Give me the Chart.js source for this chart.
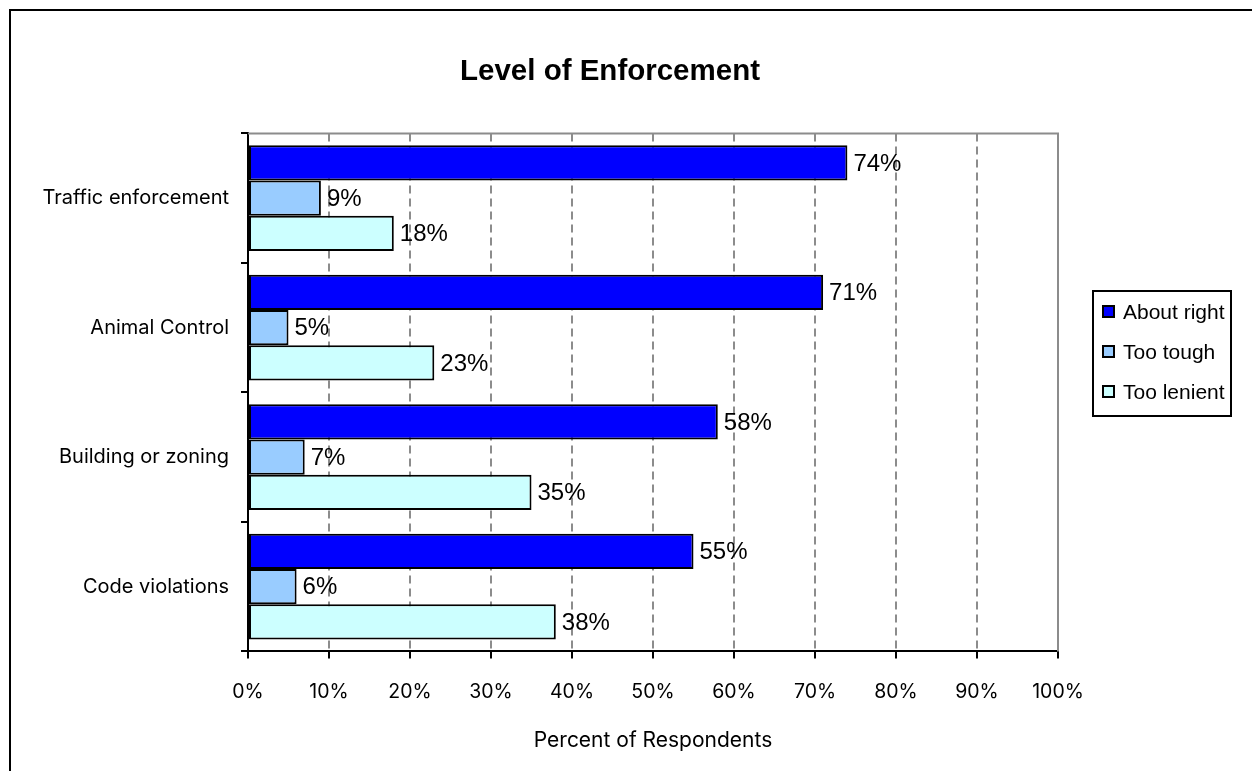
<!DOCTYPE html>
<html>
<head>
<meta charset="utf-8">
<script src="https://cdn.jsdelivr.net/npm/chart.js@4.4.1/dist/chart.umd.min.js"></script>
<style>
  html, body { margin: 0; padding: 0; background: #fff; }
  #wrap { position: relative; width: 1252px; height: 771px; overflow: hidden; }
  #legend {
    position: absolute; left: 1092px; top: 290px; width: 136px; height: 123px;
    border: 2px solid #000; font: 21px "Liberation Sans", Arial, sans-serif; color: #000;
  }
  #legend div { position: absolute; left: 8px; height: 24px; line-height: 24px; white-space: nowrap; }
  #legend span.box { display: inline-block; width: 9px; height: 9px; border: 2px solid #000; margin-right: 8px; vertical-align: 1px; }
</style>
</head>
<body>
<div id="wrap">
  <canvas id="enfChart" width="1252" height="771"></canvas>
  <div id="legend"></div>
</div>
<script>
// Level of Enforcement - percent of respondents per area
const categories = ['Traffic enforcement', 'Animal Control', 'Building or zoning', 'Code violations'];
const seriesNames = ['About right', 'Too tough', 'Too lenient'];
const aboutRight = [74, 71, 58, 55];
const tooTough = [9, 5, 7, 6];
const tooLenient = [18, 23, 35, 38];
const seriesColors = ['#0000ff', '#99ccff', '#ccffff'];
const xTicks = [0, 10, 20, 30, 40, 50, 60, 70, 80, 90, 100];

const seriesValues = [aboutRight, tooTough, tooLenient];

// outer frame of the chart object
const framePlugin = {
    id: 'frame',
    beforeDraw(chart) {
        const ctx = chart.ctx;
        ctx.save();
        ctx.strokeStyle = '#000';
        ctx.lineWidth = 2;
        ctx.strokeRect(10, 10, 2000, 2000);
        ctx.restore();
    }
};

// gray top / right edge of the plot area
const plotEdgePlugin = {
    id: 'plotEdge',
    beforeDatasetsDraw(chart) {
        const {ctx, chartArea: a} = chart;
        ctx.save();
        ctx.strokeStyle = '#8c8c8c';
        ctx.lineWidth = 2;
        ctx.beginPath();
        ctx.moveTo(a.left, a.top);
        ctx.lineTo(a.right, a.top);
        ctx.lineTo(a.right, a.bottom);
        ctx.stroke();
        ctx.restore();
    }
};

// value labels at the end of each bar
const valueLabels = {
    id: 'valueLabels',
    afterDatasetsDraw(chart) {
        const ctx = chart.ctx;
        ctx.save();
        ctx.font = '24px "Liberation Sans", Arial, sans-serif';
        ctx.fillStyle = '#000';
        ctx.textAlign = 'left';
        ctx.textBaseline = 'middle';
        chart.data.datasets.forEach((ds, i) => {
            chart.getDatasetMeta(i).data.forEach((bar, j) => {
                ctx.fillText(ds.data[j] + '%', bar.x + 6, bar.y + 1);
            });
        });
        ctx.restore();
    }
};

new Chart(document.getElementById('enfChart'), {
    type: 'bar',
    data: {
        labels: categories,
        datasets: seriesNames.map((name, i) => ({
            label: name,
            data: seriesValues[i],
            backgroundColor: seriesColors[i],
            borderColor: '#000',
            borderWidth: 2,
            borderSkipped: false,
            categoryPercentage: 0.817,
            barPercentage: 1
        }))
    },
    options: {
        indexAxis: 'y',
        responsive: false,
        animation: false,
        layout: { padding: { left: 0, right: 32, top: 10, bottom: 10 } },
        plugins: {
            legend: { display: false },
            tooltip: { enabled: false },
            title: {
                display: true,
                text: 'Level of Enforcement',
                color: '#000',
                font: { family: '"Liberation Sans", Arial, sans-serif', size: 29.5, weight: 'bold' },
                padding: { top: 44, bottom: 44 }
            }
        },
        scales: {
            x: {
                min: 0,
                max: 100,
                afterBuildTicks(scale) { scale.ticks = xTicks.map(v => ({ value: v })); },
                ticks: {
                    color: '#000',
                    padding: 22,
                    font: { family: 'Inter, sans-serif', size: 19.5 },
                    callback: v => v + '%'
                },
                grid: { color: '#8c8c8c', lineWidth: 2, tickColor: '#000', tickLength: 7, tickWidth: 2 },
                border: { color: '#000', width: 2, dash: [8, 5] },
                title: {
                    display: true,
                    text: 'Percent of Respondents',
                    color: '#000',
                    font: { family: 'Inter, sans-serif', size: 21 },
                    padding: { top: 2, bottom: 8 }
                }
            },
            y: {
                afterFit(scale) { scale.width = 248; },
                ticks: {
                    color: '#000',
                    padding: 12,
                    font: { family: 'Inter, sans-serif', size: 20 }
                },
                grid: { drawOnChartArea: false, color: '#000', tickLength: 7, lineWidth: 2 },
                border: { color: '#000', width: 2 }
            },
            // empty axis that keeps room for the legend on the right
            legendSpace: {
                axis: 'y',
                position: 'right',
                afterFit(scale) { scale.width = 162; },
                ticks: { display: false },
                grid: { display: false },
                border: { display: false }
            }
        }
    },
    plugins: [framePlugin, plotEdgePlugin, valueLabels]
});

// legend box built from the series arrays
const legendEl = document.getElementById('legend');
seriesNames.forEach((name, i) => {
    const item = document.createElement('div');
    item.style.top = (8 + i * 40) + 'px';
    item.innerHTML = '<span class="box" style="background:' + seriesColors[i] + '"></span>' + name;
    legendEl.appendChild(item);
});
</script>
</body>
</html>
